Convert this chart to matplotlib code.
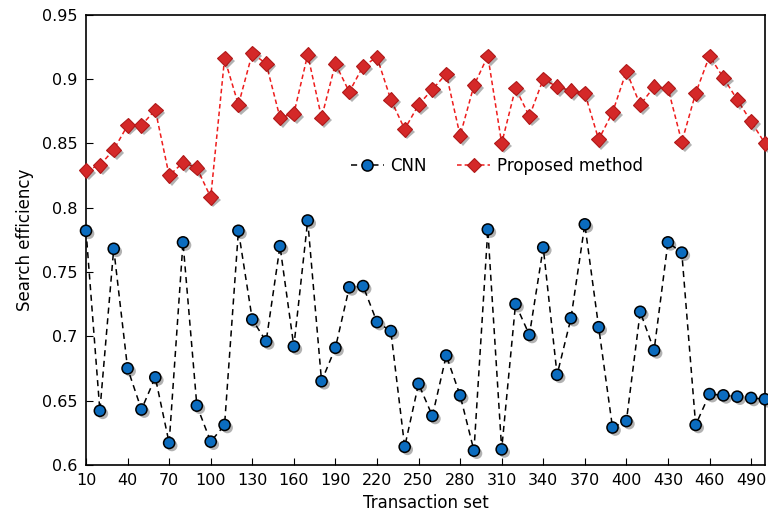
import matplotlib
matplotlib.use("Agg")
import matplotlib.pyplot as plt
import matplotlib.patheffects as pe
from matplotlib.lines import Line2D
from matplotlib.ticker import FuncFormatter

# transaction sets 10..500
transaction_set = list(range(10, 501, 10))

cnn = [0.782, 0.642, 0.768, 0.675, 0.643, 0.668, 0.617, 0.773, 0.646, 0.618,
       0.631, 0.782, 0.713, 0.696, 0.770, 0.692, 0.790, 0.665, 0.691, 0.738,
       0.739, 0.711, 0.704, 0.614, 0.663, 0.638, 0.685, 0.654, 0.611, 0.783,
       0.612, 0.725, 0.701, 0.769, 0.670, 0.714, 0.787, 0.707, 0.629, 0.634,
       0.719, 0.689, 0.773, 0.765, 0.631, 0.655, 0.654, 0.653, 0.652, 0.651]

proposed = [0.829, 0.833, 0.845, 0.864, 0.864, 0.876, 0.825, 0.835, 0.831, 0.808,
            0.916, 0.880, 0.920, 0.912, 0.870, 0.873, 0.919, 0.870, 0.912, 0.890,
            0.910, 0.917, 0.884, 0.861, 0.880, 0.892, 0.904, 0.856, 0.895, 0.918,
            0.850, 0.893, 0.871, 0.900, 0.894, 0.891, 0.889, 0.853, 0.874, 0.906,
            0.880, 0.894, 0.893, 0.851, 0.889, 0.918, 0.901, 0.884, 0.867, 0.850]

x_ticks = list(range(10, 491, 30))
y_ticks = [0.6, 0.65, 0.7, 0.75, 0.8, 0.85, 0.9, 0.95]

fig = plt.figure(figsize=(7.68, 5.27), dpi=100)
ax = fig.add_axes([0.112, 0.118, 0.884, 0.854])

shadow = [pe.SimplePatchShadow(offset=(2, -2), alpha=0.3, shadow_rgbFace="black"),
          pe.Normal()]

cnn_line = dict(linestyle=(0, (4, 3)), color="black", linewidth=1.1)
cnn_mark = dict(marker="o", markersize=8, markerfacecolor="#0b6cbf",
                markeredgecolor="black", markeredgewidth=1.1)
prop_line = dict(linestyle=(0, (3, 2)), color="#ee1c1c", linewidth=1.1)
prop_mark = dict(marker="D", markersize=7.5, markerfacecolor="#d42828",
                 markeredgecolor="#b01818", markeredgewidth=0.8)

# lines first, then markers with a drop shadow
ax.plot(transaction_set, cnn, zorder=2, clip_on=False, **cnn_line)
ax.plot(transaction_set, proposed, zorder=2, clip_on=False, **prop_line)
ax.plot(transaction_set, cnn, linestyle="none", zorder=3, clip_on=False,
        path_effects=shadow, **cnn_mark)
ax.plot(transaction_set, proposed, linestyle="none", zorder=3, clip_on=False,
        path_effects=shadow, **prop_mark)

ax.set_xlim(10, 500)
ax.set_ylim(0.6, 0.95)
ax.set_xticks(x_ticks)
ax.set_yticks(y_ticks)
ax.yaxis.set_major_formatter(FuncFormatter(lambda v, p: f"{v:g}"))
ax.tick_params(direction="in", length=5, labelsize=11.5, pad=6)
for s in ax.spines.values():
    s.set_linewidth(1.2)

ax.set_xlabel("Transaction set", fontsize=12, labelpad=4)
ax.set_ylabel("Search efficiency", fontsize=12, labelpad=6)

handles = [Line2D([], [], **cnn_line, **cnn_mark),
           Line2D([], [], **prop_line, **prop_mark)]
ax.legend(handles, ["CNN", "Proposed method"], loc="center",
          bbox_to_anchor=(0.605, 0.665), ncol=2, frameon=False,
          fontsize=12, handlelength=2.0, handletextpad=0.4, columnspacing=1.8)

fig.savefig("out.png", dpi=100)
